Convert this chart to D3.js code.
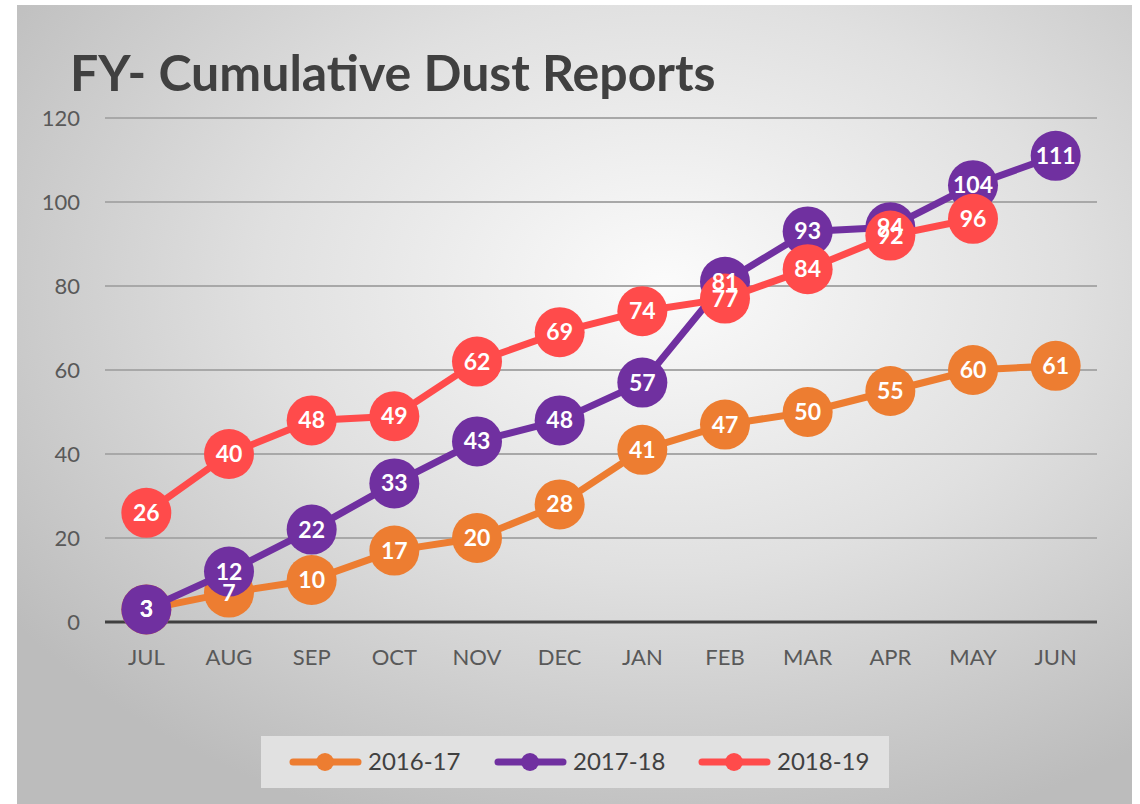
<!DOCTYPE html>
<html>
<head>
<meta charset="utf-8">
<script src="https://cdn.jsdelivr.net/npm/d3@7"></script>
<style>
  body { margin: 0; background: #fff; }
  svg { display: block; }
</style>
</head>
<body>
<div id="chart"></div>
<script>
const months = ["JUL", "AUG", "SEP", "OCT", "NOV", "DEC", "JAN", "FEB", "MAR", "APR", "MAY", "JUN"];
const fy1617 = [3, 7, 10, 17, 20, 28, 41, 47, 50, 55, 60, 61];
const fy1718 = [3, 12, 22, 33, 43, 48, 57, 81, 93, 94, 104, 111];
const fy1819 = [26, 40, 48, 49, 62, 69, 74, 77, 84, 92, 96];
const yTicks = [0, 20, 40, 60, 80, 100, 120];

const series = [
  { name: "2016-17", values: fy1617, color: "#ED7D31" },
  { name: "2017-18", values: fy1718, color: "#7030A0" },
  { name: "2018-19", values: fy1819, color: "#FF4B4B" }
];

const width = 1140;
const height = 804;
const marginTop = 118;
const marginRight = 43;
const marginBottom = 182;
const marginLeft = 105;
const font = "Lato, 'Open Sans', sans-serif";

const svg = d3.select("#chart").append("svg")
  .attr("width", width)
  .attr("height", height)
  .attr("viewBox", [0, 0, width, height]);

const defs = svg.append("defs");
const grad = defs.append("radialGradient")
  .attr("id", "bg")
  .attr("cx", "58%").attr("cy", "35%").attr("r", "72%");
grad.append("stop").attr("offset", "0%").attr("stop-color", "#fbfbfb");
grad.append("stop").attr("offset", "50%").attr("stop-color", "#e0e0e0");
grad.append("stop").attr("offset", "100%").attr("stop-color", "#bcbcbc");

svg.append("rect")
  .attr("x", 17).attr("y", 5)
  .attr("width", 1115).attr("height", height - 5)
  .attr("fill", "url(#bg)");

svg.append("text")
  .attr("x", 70).attr("y", 91)
  .attr("font-family", font)
  .attr("font-weight", "bold")
  .attr("font-size", 50)
  .attr("fill", "#404040")
  .text("FY- Cumulative Dust Reports");

const x = d3.scaleBand()
  .domain(months)
  .range([marginLeft, width - marginRight]);

const y = d3.scaleLinear()
  .domain([0, 120])
  .range([height - marginBottom, marginTop]);

// gridlines
svg.append("g")
  .selectAll("line")
  .data(yTicks.filter(d => d > 0))
  .join("line")
  .attr("x1", marginLeft).attr("x2", width - marginRight)
  .attr("y1", d => y(d)).attr("y2", d => y(d))
  .attr("stroke", "#a8a8a8")
  .attr("stroke-width", 2);

// y axis labels
svg.append("g")
  .attr("transform", `translate(${marginLeft},0)`)
  .call(d3.axisLeft(y).tickValues(yTicks).tickSize(0).tickPadding(25))
  .call(g => g.select(".domain").remove())
  .call(g => g.selectAll("text")
    .attr("font-family", font)
    .attr("font-size", 22)
    .attr("fill", "#595959"));

// zero line
svg.append("line")
  .attr("x1", marginLeft).attr("x2", width - marginRight)
  .attr("y1", y(0)).attr("y2", y(0))
  .attr("stroke", "#404040")
  .attr("stroke-width", 3);

// x axis labels
svg.append("g")
  .attr("transform", `translate(0,${y(0)})`)
  .call(d3.axisBottom(x).tickSize(0).tickPadding(27))
  .call(g => g.select(".domain").remove())
  .call(g => g.selectAll("text")
    .attr("font-family", font)
    .attr("font-size", 22)
    .attr("fill", "#595959"));

const cx = (d, i) => x(months[i]) + x.bandwidth() / 2;

const line = d3.line()
  .x(cx)
  .y(d => y(d));

series.forEach(s => {
  const g = svg.append("g");
  g.append("path")
    .datum(s.values)
    .attr("fill", "none")
    .attr("stroke", s.color)
    .attr("stroke-width", 7)
    .attr("stroke-linejoin", "round")
    .attr("stroke-linecap", "round")
    .attr("d", line);
  g.selectAll("circle")
    .data(s.values)
    .join("circle")
    .attr("cx", cx)
    .attr("cy", d => y(d))
    .attr("r", 25)
    .attr("fill", s.color);
});

series.forEach(s => {
  svg.append("g")
    .selectAll("text")
    .data(s.values)
    .join("text")
    .attr("x", cx)
    .attr("y", d => y(d))
    .attr("dy", "0.35em")
    .attr("text-anchor", "middle")
    .attr("font-family", font)
    .attr("font-weight", "bold")
    .attr("font-size", 23)
    .attr("fill", "#ffffff")
    .text(d => d);
});

// legend
const legend = svg.append("g");
legend.append("rect")
  .attr("x", 261).attr("y", 736)
  .attr("width", 628).attr("height", 52)
  .attr("fill", "#e1e1e1");

const legendX = [293, 498, 702];
series.forEach((s, i) => {
  const lg = legend.append("g").attr("transform", `translate(${legendX[i]},762)`);
  lg.append("line")
    .attr("x1", 0).attr("x2", 65)
    .attr("stroke", s.color)
    .attr("stroke-width", 7)
    .attr("stroke-linecap", "round");
  lg.append("circle")
    .attr("cx", 32).attr("r", 9)
    .attr("fill", s.color);
  lg.append("text")
    .attr("x", 75).attr("dy", "0.35em")
    .attr("font-family", font)
    .attr("font-size", 24)
    .attr("fill", "#404040")
    .text(s.name);
});
</script>
</body>
</html>
